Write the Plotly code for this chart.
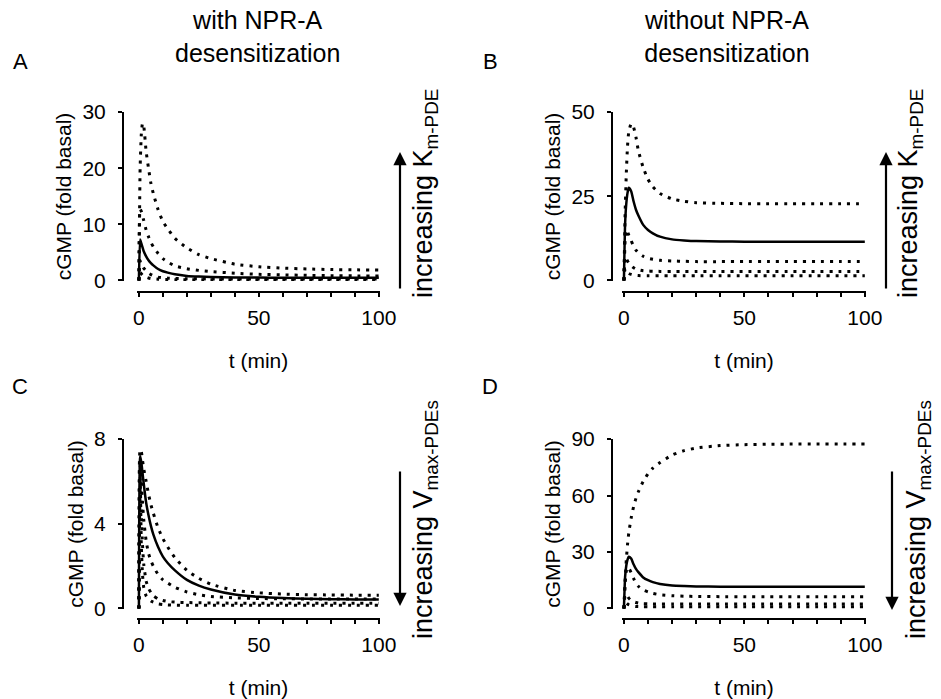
import plotly.graph_objects as go

# time grid (min)
t = [0, 0.5, 1, 1.5, 2, 3, 4, 5, 6, 8, 10, 12, 15, 20, 25, 30, 40, 50, 60, 70, 80, 90, 100]

# Panel A: with NPR-A desensitization, varying Km-PDE
a_1 = [0, 20, 26, 28, 27.5, 23, 20, 17.3, 15.5, 12.6, 10.5, 9.2, 7.5, 5.8, 4.6, 3.9, 2.9, 2.45, 2.2, 2.05, 1.95, 1.9, 1.85]
a_2 = [0, 12.7, 12.3, 11.5, 10.7, 9.0, 7.8, 6.8, 6.0, 4.8, 3.9, 3.3, 2.6, 2.1, 1.8, 1.6, 1.3, 1.1, 1.0, 0.92, 0.86, 0.82, 0.8]
a_base = [0, 7.3, 6.6, 5.9, 5.2, 4.3, 3.6, 3.1, 2.7, 2.05, 1.65, 1.4, 1.1, 0.82, 0.7, 0.62, 0.55, 0.52, 0.5, 0.5, 0.5, 0.5, 0.5]
a_4 = [0, 3.5, 3.0, 2.6, 2.2, 1.7, 1.3, 1.05, 0.85, 0.6, 0.48, 0.42, 0.36, 0.32, 0.3, 0.28, 0.27, 0.27, 0.26, 0.26, 0.26, 0.26, 0.26]
a_5 = [0, 1.5, 1.2, 0.95, 0.8, 0.6, 0.45, 0.35, 0.3, 0.22, 0.18, 0.16, 0.14, 0.13, 0.12, 0.12, 0.12, 0.12, 0.12, 0.12, 0.12, 0.12, 0.12]

# Panel B: without NPR-A desensitization, varying Km-PDE
b_1 = [0, 20, 32, 40, 44, 46.5, 45.5, 42.5, 38.5, 33.5, 30, 27.8, 25.8, 24.2, 23.5, 23.1, 22.9, 22.8, 22.8, 22.8, 22.8, 22.8, 22.8]
b_base = [0, 17, 23, 26, 27.5, 26.5, 23.5, 21, 19.3, 16.5, 15, 14, 13, 12.2, 11.9, 11.7, 11.6, 11.5, 11.5, 11.5, 11.5, 11.5, 11.5]
b_3 = [0, 12, 15, 14.5, 13.5, 11.8, 10.2, 9, 8.2, 7.2, 6.6, 6.3, 6.0, 5.8, 5.7, 5.6, 5.6, 5.6, 5.6, 5.6, 5.6, 5.6, 5.6]
b_4 = [0, 7, 6.5, 5.8, 5.2, 4.4, 3.8, 3.4, 3.2, 2.9, 2.8, 2.75, 2.7, 2.7, 2.7, 2.7, 2.7, 2.7, 2.7, 2.7, 2.7, 2.7, 2.7]
b_5 = [0, 3.5, 3.0, 2.5, 2.1, 1.8, 1.6, 1.5, 1.45, 1.4, 1.4, 1.4, 1.4, 1.4, 1.4, 1.4, 1.4, 1.4, 1.4, 1.4, 1.4, 1.4, 1.4]

# Panel C: with NPR-A desensitization, varying Vmax-PDEs
c_1 = [0, 7.5, 7.4, 7.0, 6.6, 6.0, 5.4, 4.9, 4.5, 3.8, 3.3, 2.9, 2.4, 1.8, 1.42, 1.15, 0.85, 0.74, 0.68, 0.65, 0.64, 0.63, 0.63]
c_base = [0, 7.2, 6.9, 6.4, 5.9, 5.0, 4.4, 3.9, 3.5, 2.9, 2.45, 2.15, 1.8, 1.35, 1.08, 0.9, 0.66, 0.55, 0.49, 0.46, 0.44, 0.43, 0.42]
c_3 = [0, 7.0, 6.0, 5.0, 4.2, 3.2, 2.6, 2.25, 2.0, 1.6, 1.35, 1.2, 1.0, 0.78, 0.65, 0.57, 0.5, 0.47, 0.46, 0.45, 0.45, 0.45, 0.45]
c_4 = [0, 6.8, 4.5, 3.0, 2.1, 1.3, 0.95, 0.75, 0.6, 0.45, 0.38, 0.33, 0.3, 0.28, 0.27, 0.26, 0.25, 0.25, 0.25, 0.25, 0.25, 0.25, 0.25]
c_5 = [0, 6.5, 3.0, 1.6, 1.0, 0.6, 0.45, 0.35, 0.3, 0.22, 0.19, 0.17, 0.16, 0.15, 0.15, 0.15, 0.15, 0.15, 0.15, 0.15, 0.15, 0.15, 0.15]

# Panel D: without NPR-A desensitization, varying Vmax-PDEs
d_1 = [0, 14, 26, 34, 40, 48, 54, 58.5, 62, 67.5, 71.5, 74.5, 77.5, 81.5, 83.8, 85.2, 86.5, 87, 87.2, 87.3, 87.3, 87.3, 87.3]
d_base = [0, 17, 23, 26, 27.5, 26.5, 23.5, 21, 19.3, 16.5, 15, 14, 13, 12.2, 11.9, 11.7, 11.6, 11.5, 11.5, 11.5, 11.5, 11.5, 11.5]
d_3 = [0, 14, 20, 22, 21.5, 19, 16, 13.3, 11.8, 9.8, 8.8, 8.0, 7.3, 6.8, 6.5, 6.4, 6.3, 6.3, 6.3, 6.3, 6.3, 6.3, 6.3]
d_4 = [0, 7, 7.5, 6.5, 5.5, 4.3, 3.6, 3.2, 2.9, 2.6, 2.5, 2.45, 2.4, 2.4, 2.4, 2.4, 2.4, 2.4, 2.4, 2.4, 2.4, 2.4, 2.4]
d_5 = [0, 3.5, 3.0, 2.4, 2.0, 1.5, 1.2, 1.05, 1.0, 0.95, 0.92, 0.9, 0.9, 0.9, 0.9, 0.9, 0.9, 0.9, 0.9, 0.9, 0.9, 0.9, 0.9]

x_ticks = [0, 50, 100]
y_ticks_a = [0, 10, 20, 30]
y_ticks_b = [0, 25, 50]
y_ticks_c = [0, 4, 8]
y_ticks_d = [0, 30, 60, 90]

panel_letters = ["A", "B", "C", "D"]
col_titles = ["with NPR-A<br>desensitization", "without NPR-A<br>desensitization"]
x_title = "t (min)"
y_title = "cGMP (fold basal)"
side_km = "increasing K<sub>m-PDE</sub>"
side_vmax = "increasing V<sub>max-PDEs</sub>"

W, H = 941, 699
FONT = "Arial, Liberation Sans, sans-serif"


def px(x):
    return x / W


def py(y):
    return 1 - y / H


panels = [
    ([a_1, a_2, a_base, a_4, a_5], y_ticks_a, (137, 380), (112, 281), 123, 292),
    ([b_1, b_base, b_3, b_4, b_5], y_ticks_b, (622, 866), (112, 281), 612, 292),
    ([c_1, c_base, c_3, c_4, c_5], y_ticks_c, (137, 380), (439, 609), 123, 619),
    ([d_1, d_base, d_3, d_4, d_5], y_ticks_d, (622, 866), (439, 609), 612, 619),
]
base_idx = [2, 1, 1, 1]

fig = go.Figure()
layout = {}
for i, (series, yt, xd, yd, ypos, xpos) in enumerate(panels):
    sfx = "" if i == 0 else str(i + 1)
    for j, s in enumerate(series):
        solid = (j == base_idx[i])
        fig.add_trace(go.Scatter(
            x=t, y=s, mode="lines", xaxis="x" + sfx, yaxis="y" + sfx,
            line=dict(color="black", width=2.5 if solid else 3,
                      dash="solid" if solid else "3px,6px", shape="spline", smoothing=0.5),
            showlegend=False, hoverinfo="skip"))
    layout["xaxis" + sfx] = dict(
        domain=[px(xd[0]), px(xd[1])], range=[-0.8, 100.5], anchor="free", position=py(xpos),
        automargin=False,
        tickvals=x_ticks, ticks="outside", ticklen=4, tickwidth=2, tickcolor="black",
        ticklabelstandoff=3,
        showline=True, linewidth=2, linecolor="black", showgrid=False, zeroline=False,
        minor=dict(ticks="outside", dtick=10, tick0=0, ticklen=4, tickwidth=2, tickcolor="black", showgrid=False),
        tickfont=dict(family=FONT, size=21, color="black"),
        title=dict(text=x_title, font=dict(family=FONT, size=21, color="black"), standoff=24),
    )
    layout["yaxis" + sfx] = dict(
        domain=[py(yd[1]), py(yd[0])], range=[-0.003 * yt[-1], yt[-1]], anchor="free", position=px(ypos),
        automargin=False,
        tickvals=yt, ticks="outside", ticklen=4, tickwidth=2, tickcolor="black",
        ticklabelstandoff=8,
        showline=True, linewidth=2, linecolor="black", showgrid=False, zeroline=False,
        tickfont=dict(family=FONT, size=21, color="black"),
        title=dict(text=y_title, font=dict(family=FONT, size=21, color="black"), standoff=4),
    )

annotations = []
for xc, txt in zip([257, 727], col_titles):
    annotations.append(dict(x=px(xc), y=py(36), xref="paper", yref="paper", text=txt,
                            showarrow=False, font=dict(family=FONT, size=25, color="black"),
                            xanchor="center", yanchor="middle"))
for (xl, yl), lt in zip([(20, 62), (490, 62), (20, 386), (490, 386)], panel_letters):
    annotations.append(dict(x=px(xl), y=py(yl), xref="paper", yref="paper", text=lt,
                            showarrow=False, font=dict(family=FONT, size=22, color="black"),
                            xanchor="center", yanchor="middle"))
arrows = [(400, 152, 290), (886, 152, 290), (400, 606, 470), (892, 610, 470)]
for ax_x, hy, ty in arrows:
    annotations.append(dict(x=px(ax_x), y=py(hy), xref="paper", yref="paper", text="",
                            showarrow=True, ax=0, ay=ty - hy, axref="pixel", ayref="pixel",
                            arrowhead=2, arrowsize=1.2, arrowwidth=2.2, arrowcolor="black"))
for (xs, ys), txt in zip([(425, 194), (910, 194), (425, 520), (918, 520)],
                         [side_km, side_km, side_vmax, side_vmax]):
    annotations.append(dict(x=px(xs), y=py(ys), xref="paper", yref="paper", text=txt,
                            showarrow=False, textangle=-90,
                            font=dict(family=FONT, size=27, color="black"),
                            xanchor="center", yanchor="middle"))

fig.update_layout(
    width=W, height=H, margin=dict(l=0, r=0, t=0, b=0, pad=0, autoexpand=False),
    paper_bgcolor="white", plot_bgcolor="white",
    annotations=annotations, **layout)

fig.write_html("out.html", config={"displayModeBar": False},
               post_script="document.body.style.margin='0';document.body.style.overflow='hidden';")
